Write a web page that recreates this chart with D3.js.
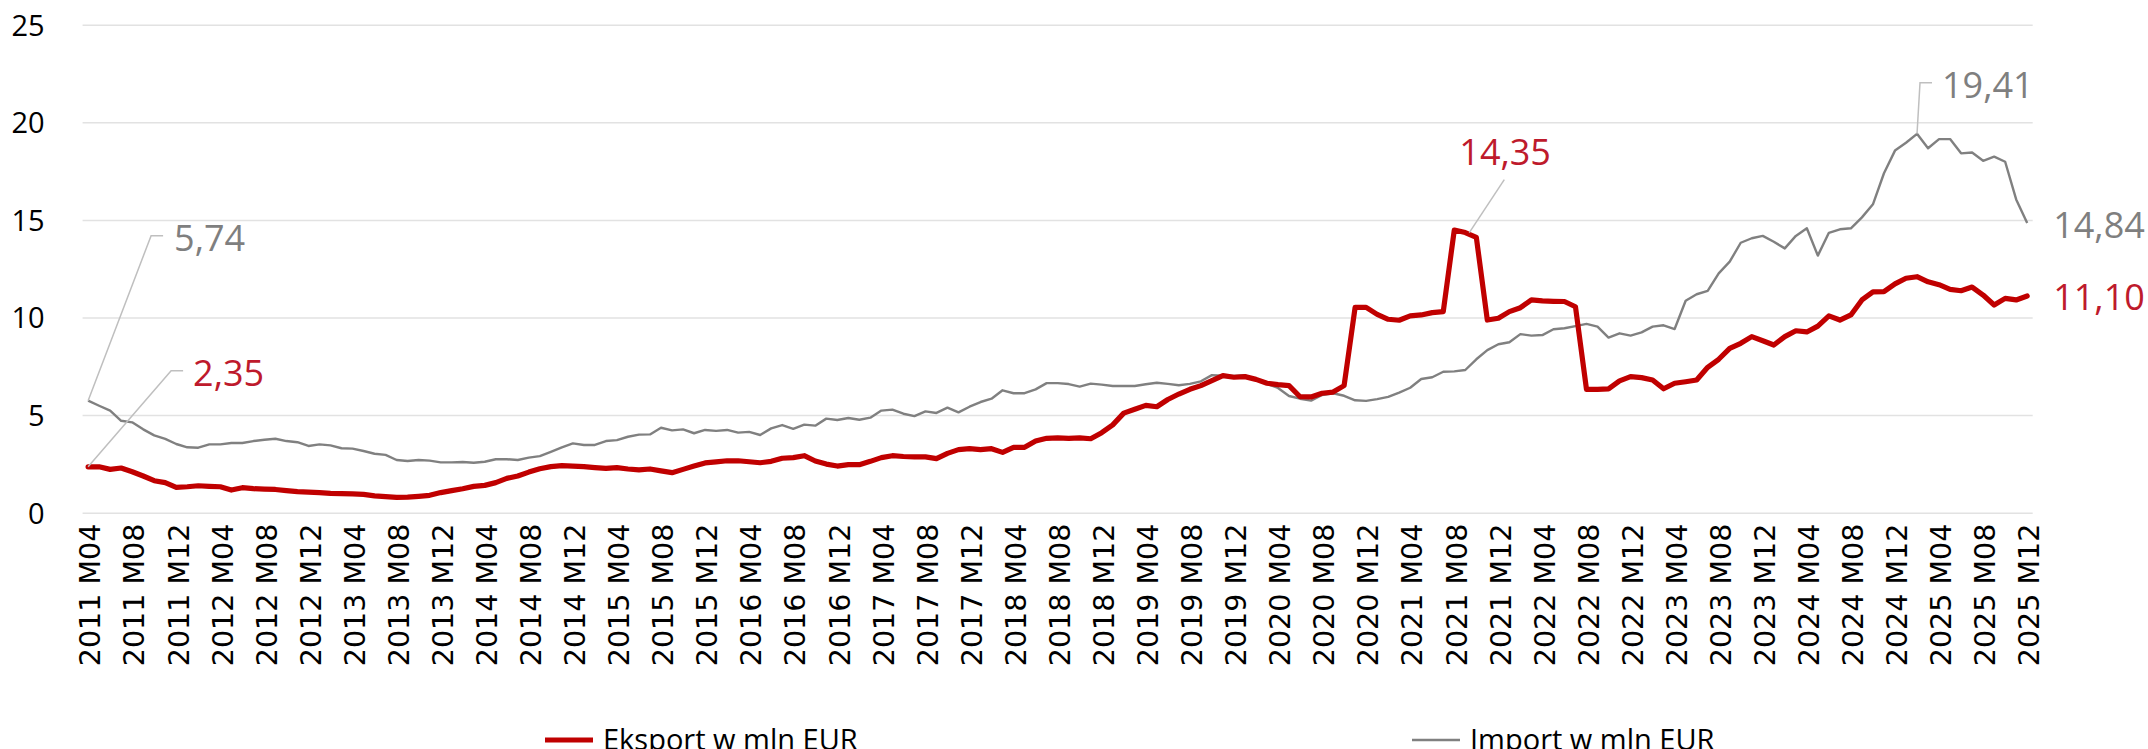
<!DOCTYPE html>
<html>
<head>
<meta charset="utf-8">
<script src="https://cdn.jsdelivr.net/npm/d3@7"></script>
<style>
  body { margin: 0; background: #fff; }
  svg { display: block; }
</style>
</head>
<body>
<div id="chart-area"></div>
<script>
// monthly categories 2011 M04 .. 2025 M12
var firstYear = 2011, firstMonth = 4, lastYear = 2025, lastMonth = 12;
var months = [];
for (var yr = firstYear; yr <= lastYear; yr++) {
    for (var m = 1; m <= 12; m++) {
        if (yr == firstYear && m < firstMonth) continue;
        if (yr == lastYear && m > lastMonth) continue;
        months.push(yr + " M" + (m < 10 ? "0" + m : m));
    }
}

var yTicks = [0, 5, 10, 15, 20, 25];

// Eksport w mln EUR
var eksport = [
    2.35, 2.35, 2.22, 2.29, 2.10, 1.88, 1.64, 1.54, 1.30, 1.33, 1.38, 1.35, 1.33, 1.16, 1.28, 1.23,
    1.21, 1.19, 1.13, 1.08, 1.05, 1.03, 0.99, 0.98, 0.96, 0.94, 0.86, 0.82, 0.79, 0.80, 0.84, 0.89,
    1.03, 1.13, 1.23, 1.35, 1.40, 1.54, 1.76, 1.88, 2.08, 2.25, 2.36, 2.41, 2.39, 2.36, 2.31, 2.27,
    2.31, 2.24, 2.19, 2.24, 2.14, 2.05, 2.22, 2.39, 2.55, 2.60, 2.66, 2.66, 2.61, 2.56, 2.63, 2.79,
    2.82, 2.92, 2.65, 2.49, 2.39, 2.46, 2.46, 2.63, 2.82, 2.92, 2.88, 2.86, 2.86, 2.77, 3.04, 3.23,
    3.28, 3.23, 3.28, 3.09, 3.35, 3.35, 3.67, 3.81, 3.83, 3.81, 3.83, 3.79, 4.10, 4.50, 5.10, 5.30,
    5.50, 5.43, 5.80, 6.08, 6.32, 6.51, 6.76, 7.02, 6.94, 6.97, 6.83, 6.63, 6.56, 6.51, 5.94, 5.93,
    6.12, 6.18, 6.51, 10.52, 10.52, 10.16, 9.91, 9.86, 10.08, 10.13, 10.25, 10.30, 14.48, 14.35, 14.11, 9.87,
    9.96, 10.30, 10.50, 10.90, 10.85, 10.83, 10.82, 10.55, 6.32, 6.32, 6.34, 6.75, 6.97, 6.92, 6.80, 6.35,
    6.63, 6.71, 6.80, 7.45, 7.86, 8.42, 8.68, 9.02, 8.81, 8.59, 9.02, 9.32, 9.26, 9.56, 10.08, 9.87,
    10.13, 10.90, 11.31, 11.32, 11.72, 12.01, 12.09, 11.83, 11.68, 11.44, 11.37, 11.56, 11.15, 10.64, 10.98, 10.90,
    11.10
];

// Import w mln EUR
var importy = [
    5.74, 5.48, 5.23, 4.71, 4.63, 4.27, 3.96, 3.78, 3.52, 3.35, 3.33, 3.50, 3.50, 3.57, 3.57, 3.67,
    3.74, 3.79, 3.67, 3.61, 3.42, 3.50, 3.45, 3.30, 3.28, 3.16, 3.02, 2.96, 2.70, 2.65, 2.70, 2.67,
    2.58, 2.58, 2.60, 2.56, 2.61, 2.74, 2.74, 2.70, 2.82, 2.90, 3.12, 3.35, 3.55, 3.47, 3.47, 3.67,
    3.72, 3.89, 4.00, 4.01, 4.35, 4.22, 4.27, 4.07, 4.24, 4.19, 4.24, 4.10, 4.14, 3.98, 4.32, 4.49,
    4.30, 4.51, 4.46, 4.82, 4.75, 4.85, 4.76, 4.87, 5.23, 5.28, 5.07, 4.95, 5.19, 5.11, 5.38, 5.14,
    5.43, 5.67, 5.84, 6.27, 6.12, 6.12, 6.32, 6.64, 6.64, 6.59, 6.46, 6.61, 6.56, 6.49, 6.49, 6.49,
    6.58, 6.66, 6.60, 6.53, 6.60, 6.73, 7.05, 7.02, 7.00, 7.04, 6.83, 6.60, 6.39, 5.98, 5.84, 5.74,
    6.03, 6.12, 5.99, 5.76, 5.73, 5.82, 5.93, 6.15, 6.40, 6.85, 6.94, 7.22, 7.24, 7.31, 7.86, 8.33,
    8.63, 8.73, 9.15, 9.07, 9.10, 9.40, 9.45, 9.56, 9.67, 9.53, 8.97, 9.19, 9.07, 9.24, 9.53, 9.60,
    9.41, 10.86, 11.19, 11.36, 12.26, 12.86, 13.83, 14.06, 14.18, 13.88, 13.54, 14.18, 14.57, 13.17, 14.34, 14.52,
    14.57, 15.13, 15.80, 17.39, 18.55, 18.95, 19.41, 18.67, 19.14, 19.14, 18.41, 18.45, 18.03, 18.24, 17.98, 16.05,
    14.84
];

var seriesNames = ["Eksport w mln EUR", "Import w mln EUR"];

var width = 2148,
    height = 749,
    plotLeft = 82.6,
    plotRight = 2032.7,
    plotTop = 24.7,
    plotBottom = 512.7;

var red = "#c00000",
    gray = "#808080",
    redLabel = "#be1a2c",
    grayLabel = "#7f7f7f";

var svg = d3.select("#chart-area")
    .append("svg")
    .attr("width", width)
    .attr("height", height)
    .style("font-family", "'Open Sans', sans-serif");

var x = d3.scaleBand().domain(months).range([plotLeft, plotRight]);
var y = d3.scaleLinear().domain([0, 25]).range([plotBottom, plotTop]);

function cx(i) { return x(months[i]) + x.bandwidth() / 2; }

// y axis + gridlines
var gy = svg.append("g")
    .attr("transform", "translate(" + plotLeft + ",0)")
    .call(d3.axisLeft(y).tickValues(yTicks).tickSize(-(plotRight - plotLeft)).tickPadding(38));
gy.select(".domain").remove();
gy.selectAll(".tick line").attr("stroke", "#e2e2e2").attr("stroke-width", 1.5);
gy.selectAll(".tick text")
    .attr("fill", "#000")
    .style("font-size", "29px")
    .style("font-family", "'Open Sans', sans-serif")
    .attr("dy", "0.36em");

// x axis labels, every 4th month
var gx = svg.append("g")
    .attr("transform", "translate(0," + plotBottom + ")")
    .call(d3.axisBottom(x).tickValues(months.filter(function(d, i) { return i % 4 == 0; })).tickSize(0));
gx.select(".domain").remove();
gx.selectAll(".tick text")
    .attr("transform", "rotate(-90)")
    .attr("text-anchor", "end")
    .attr("x", -11)
    .attr("y", 2)
    .attr("dy", "0.36em")
    .attr("fill", "#000")
    .style("font-size", "28.5px")
    .style("font-family", "'DejaVu Sans', sans-serif");

var line = d3.line()
    .x(function(d, i) { return cx(i); })
    .y(function(d) { return y(d); });

svg.append("path")
    .datum(importy)
    .attr("fill", "none")
    .attr("stroke", gray)
    .attr("stroke-width", 2.4)
    .attr("stroke-linejoin", "round")
    .attr("d", line);

svg.append("path")
    .datum(eksport)
    .attr("fill", "none")
    .attr("stroke", red)
    .attr("stroke-width", 5.2)
    .attr("stroke-linejoin", "round")
    .attr("stroke-linecap", "round")
    .attr("d", line);

// data labels: offsets in px from the point
var labels = [
    {data: importy, i: 0, color: grayLabel, dx: 86, dy: -150, leader: [[0, 0], [63, -165], [75, -165]]},
    {data: eksport, i: 0, color: redLabel, dx: 105, dy: -81, leader: [[0, 0], [83, -96], [95, -96]]},
    {data: eksport, i: 125, color: redLabel, dx: -6, dy: -68, leader: [[4, 0], [39, -53]]},
    {data: importy, i: 166, color: grayLabel, dx: 25, dy: -36, leader: [[0, 0], [3, -51], [15, -51]]},
    {data: importy, i: 176, color: grayLabel, dx: 26, dy: 15, leader: null},
    {data: eksport, i: 176, color: redLabel, dx: 26, dy: 14, leader: null}
];

var lab = svg.append("g");
labels.forEach(function(l) {
    var px = cx(l.i), py = y(l.data[l.i]);
    if (l.leader) {
        lab.append("path")
            .attr("fill", "none")
            .attr("stroke", "#bfbfbf")
            .attr("stroke-width", 1.5)
            .attr("d", d3.line()(l.leader.map(function(p) { return [px + p[0], py + p[1]]; })));
    }
    lab.append("text")
        .attr("x", px + l.dx)
        .attr("y", py + l.dy)
        .attr("fill", l.color)
        .style("font-size", "36px")
        .text(l.data[l.i].toFixed(2).replace(".", ","));
});

// legend (cut by the bottom edge, as in the original)
var legend = svg.append("g");
var legendItems = [
    {name: seriesNames[0], color: red, w: 5.2, x: 545},
    {name: seriesNames[1], color: gray, w: 2.4, x: 1412}
];
legendItems.forEach(function(d) {
    legend.append("line")
        .attr("x1", d.x).attr("x2", d.x + 48)
        .attr("y1", 740).attr("y2", 740)
        .attr("stroke", d.color)
        .attr("stroke-width", d.w);
    legend.append("text")
        .attr("x", d.x + 58)
        .attr("y", 750)
        .attr("fill", "#000")
        .style("font-size", "29px")
        .text(d.name);
});
</script>
</body>
</html>
